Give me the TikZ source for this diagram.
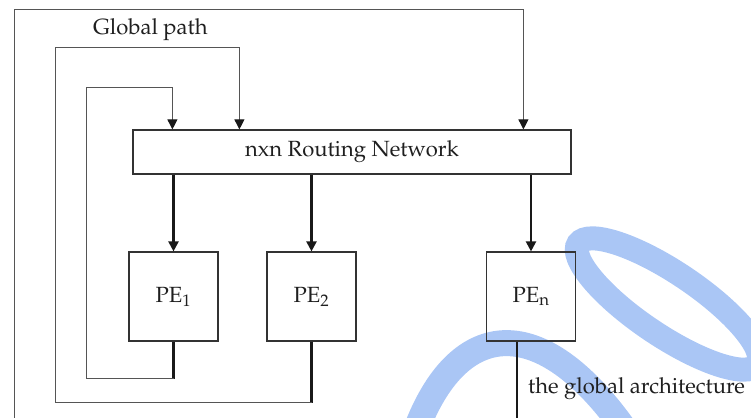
\documentclass[tikz,border=0pt]{standalone}
\usepackage[T1]{fontenc}
\usepackage{mathpazo}
\usepackage{tikz}
\usetikzlibrary{arrows.meta,calc,positioning}
\usepackage{xcolor}
\definecolor{wmblue}{RGB}{170,198,245}
\definecolor{linegray}{RGB}{85,85,85}

\begin{document}
\begin{tikzpicture}[x=1pt, y=-1pt,
  every node/.style={font=\fontsize{22}{26}\selectfont, text=black!88},
  box/.style={draw=black!80, line width=1.2pt, inner sep=0pt},
  feed/.style={draw=linegray, line width=0.9pt},
  bus/.style={draw=black!90, line width=2.2pt},
  tip/.style={-{Triangle[width=10pt,length=10pt,color=black!90]}},
  wm/.style={draw=wmblue}]

  % Page (the figure is cut off at the bottom and right)
  \clip (0,0) rectangle (751,417);

  % Watermark behind everything
  \draw[wm, line width=24, rotate around={-34:(668,304)}] (668,304) ellipse [x radius=108, y radius=31];
  \draw[wm, line width=26] (418,425) .. controls (460,320) and (540,310) .. (625,430);

  % Routing network and processing elements
  \node[box, minimum width=438, minimum height=44] (net) at (352,152) {nxn Routing Network};
  \node[box, minimum width=89, minimum height=89] (pe1) at (173.5,296.5) {PE\textsubscript{1}};
  \node[box, minimum width=89, minimum height=89] (pe2) at (311.5,296.5) {PE\textsubscript{2}};
  \node[box, minimum width=89, minimum height=89] (pen) at (531,296.5) {PE\textsubscript{n}};

  % Labels
  \node[anchor=base west, inner sep=0pt] (gpath) at (93,35) {Global path};
  \node[anchor=base west, inner sep=0pt] (garch) at (528,393) {the global architecture};

  % Network outputs
  \draw[bus, tip] (pe1.north |- net.south) -- (pe1.north);
  \draw[bus, tip] (pe2.north |- net.south) -- (pe2.north);
  \draw[bus, tip] (pen.north |- net.south) -- (pen.north);

  % Feedback paths back into the network
  \draw[bus] (pe1.south) -- ++(0,37) coordinate (back1);
  \draw[feed, tip] (back1) -| (86,87) -| ($(net.north west)+(40,0)$);

  \draw[bus] (pe2.south) -- ++(0,61) coordinate (back2);
  \draw[feed, tip] (back2) -| (55,47) -| ($(net.north west)+(107,0)$);

  \draw[bus] ($(pen.south)+(-14,0)$) -- ++(0,110) coordinate (backn);
  \draw[feed, tip] (backn) -| (14,9) -| ($(net.north west)+(391,0)$);
\end{tikzpicture}
\end{document}
